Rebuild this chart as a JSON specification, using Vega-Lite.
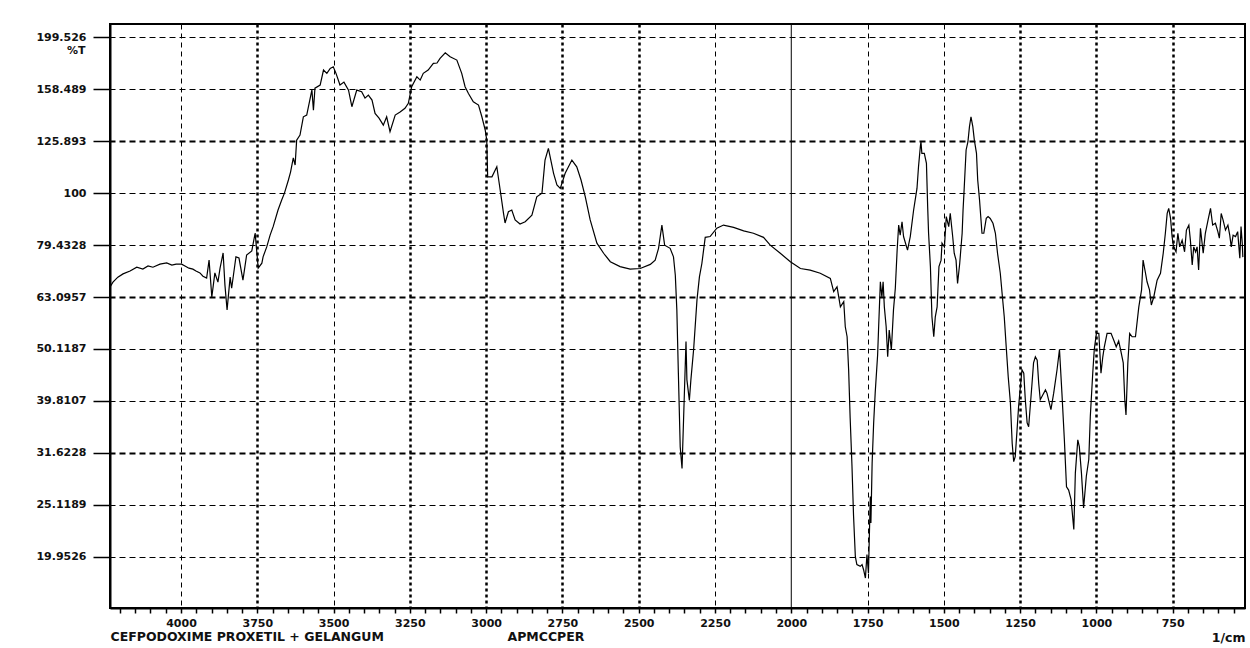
{
  "$schema": "https://vega.github.io/schema/vega-lite/v6.json",
  "width": 1135,
  "height": 584,
  "autosize": {"type": "none"},
  "padding": {"left": 110, "top": 24, "right": 5, "bottom": 40},
  "background": "white",
  "config": {
    "view": {"stroke": "black", "strokeWidth": 2},
    "axis": {"labelFont": "DejaVu Sans", "labelFontSize": 11, "labelFontWeight": "bold", "labelColor": "#111111", "titleFont": "DejaVu Sans", "titleFontSize": 12.5, "titleFontWeight": "bold", "titleColor": "#111111", "labelOverlap": false, "labelFlush": false}
  },
  "data": {"values": [
    {"wn":4231,"T":66.2},{"wn":4223,"T":67.4},{"wn":4207,"T":68.9},{"wn":4190,"T":69.9},{"wn":4167,"T":70.8},{"wn":4145,"T":72.0},{"wn":4125,"T":71.4},{"wn":4108,"T":72.4},{"wn":4092,"T":72.0},{"wn":4069,"T":73.0},
    {"wn":4047,"T":73.4},{"wn":4030,"T":72.7},{"wn":4016,"T":73.0},{"wn":3998,"T":73.0},{"wn":3987,"T":72.4},{"wn":3974,"T":71.7},{"wn":3961,"T":71.4},{"wn":3951,"T":70.8},{"wn":3938,"T":70.2},{"wn":3928,"T":69.2},
    {"wn":3916,"T":68.6},{"wn":3908,"T":74.3},{"wn":3899,"T":63.1},{"wn":3889,"T":70.2},{"wn":3879,"T":67.4},{"wn":3872,"T":71.7},{"wn":3862,"T":76.7},{"wn":3856,"T":66.5},{"wn":3849,"T":59.6},{"wn":3839,"T":68.9},
    {"wn":3834,"T":65.6},{"wn":3820,"T":75.4},{"wn":3810,"T":75.0},{"wn":3797,"T":68.0},{"wn":3785,"T":76.0},{"wn":3768,"T":77.4},{"wn":3757,"T":83.8},{"wn":3747,"T":71.7},{"wn":3735,"T":73.3},{"wn":3731,"T":75.4},
    {"wn":3719,"T":78.8},{"wn":3708,"T":83.0},{"wn":3698,"T":86.2},{"wn":3682,"T":92.8},{"wn":3670,"T":97.0},{"wn":3661,"T":100.0},{"wn":3648,"T":106.0},{"wn":3641,"T":109.8},{"wn":3632,"T":116.9},{"wn":3626,"T":113.3},
    {"wn":3621,"T":126.5},{"wn":3610,"T":129.4},{"wn":3599,"T":140.3},{"wn":3588,"T":141.4},{"wn":3571,"T":158.0},{"wn":3566,"T":144.5},{"wn":3561,"T":159.3},{"wn":3544,"T":161.5},{"wn":3533,"T":172.6},{"wn":3522,"T":170.1},
    {"wn":3511,"T":173.9},{"wn":3501,"T":175.1},{"wn":3492,"T":170.1},{"wn":3479,"T":161.5},{"wn":3466,"T":163.6},{"wn":3451,"T":157.9},{"wn":3440,"T":146.7},{"wn":3424,"T":157.9},{"wn":3408,"T":156.8},{"wn":3397,"T":152.4},
    {"wn":3386,"T":154.5},{"wn":3374,"T":151.1},{"wn":3364,"T":142.4},{"wn":3351,"T":139.5},{"wn":3337,"T":135.2},{"wn":3326,"T":140.3},{"wn":3315,"T":131.3},{"wn":3298,"T":141.4},{"wn":3282,"T":143.3},{"wn":3266,"T":145.7},
    {"wn":3255,"T":148.9},{"wn":3244,"T":160.3},{"wn":3227,"T":167.5},{"wn":3216,"T":165.1},{"wn":3206,"T":170.1},{"wn":3190,"T":172.6},{"wn":3173,"T":177.8},{"wn":3161,"T":178.1},{"wn":3151,"T":181.8},{"wn":3134,"T":186.3},
    {"wn":3118,"T":183.1},{"wn":3096,"T":180.4},{"wn":3080,"T":170.1},{"wn":3069,"T":160.3},{"wn":3058,"T":155.6},{"wn":3042,"T":150.0},{"wn":3025,"T":147.8},{"wn":3014,"T":140.3},{"wn":3003,"T":132.3},{"wn":2998,"T":126.5},
    {"wn":2995,"T":107.5},{"wn":2981,"T":107.5},{"wn":2965,"T":112.4},{"wn":2954,"T":101.4},{"wn":2943,"T":91.4},{"wn":2938,"T":87.6},{"wn":2927,"T":92.1},{"wn":2916,"T":92.8},{"wn":2905,"T":88.8},{"wn":2889,"T":87.2},
    {"wn":2872,"T":88.1},{"wn":2850,"T":90.7},{"wn":2834,"T":98.4},{"wn":2817,"T":100.0},{"wn":2807,"T":115.8},{"wn":2796,"T":122.0},{"wn":2779,"T":109.2},{"wn":2768,"T":103.7},{"wn":2757,"T":102.1},{"wn":2741,"T":109.2},
    {"wn":2719,"T":115.8},{"wn":2703,"T":112.4},{"wn":2689,"T":106.0},{"wn":2675,"T":98.4},{"wn":2659,"T":88.8},{"wn":2637,"T":80.1},{"wn":2615,"T":76.6},{"wn":2593,"T":73.8},{"wn":2561,"T":72.2},{"wn":2528,"T":71.4},
    {"wn":2495,"T":71.6},{"wn":2462,"T":72.9},{"wn":2446,"T":74.3},{"wn":2435,"T":78.3},{"wn":2424,"T":86.8},{"wn":2415,"T":79.4},{"wn":2397,"T":78.3},{"wn":2386,"T":75.4},{"wn":2380,"T":69.5},{"wn":2375,"T":59.6},
    {"wn":2370,"T":45.0},{"wn":2364,"T":32.5},{"wn":2358,"T":29.5},{"wn":2353,"T":36.6},{"wn":2345,"T":51.8},{"wn":2342,"T":43.7},{"wn":2334,"T":39.9},{"wn":2329,"T":43.7},{"wn":2320,"T":50.0},{"wn":2309,"T":62.3},
    {"wn":2301,"T":69.0},{"wn":2293,"T":73.2},{"wn":2282,"T":82.2},{"wn":2266,"T":82.5},{"wn":2244,"T":85.6},{"wn":2222,"T":86.8},{"wn":2189,"T":85.9},{"wn":2156,"T":84.6},{"wn":2124,"T":83.7},{"wn":2091,"T":82.2},
    {"wn":2069,"T":79.4},{"wn":2036,"T":76.6},{"wn":2003,"T":73.8},{"wn":1970,"T":71.6},{"wn":1938,"T":71.1},{"wn":1905,"T":70.1},{"wn":1872,"T":68.5},{"wn":1861,"T":64.6},{"wn":1850,"T":66.0},{"wn":1839,"T":60.4},
    {"wn":1828,"T":61.8},{"wn":1823,"T":55.3},{"wn":1817,"T":52.9},{"wn":1812,"T":45.7},{"wn":1807,"T":36.9},{"wn":1801,"T":29.8},{"wn":1796,"T":24.0},{"wn":1790,"T":19.95},{"wn":1785,"T":19.26},{"wn":1774,"T":19.11},
    {"wn":1768,"T":19.26},{"wn":1763,"T":18.83},{"wn":1757,"T":18.15},{"wn":1752,"T":20.13},{"wn":1747,"T":18.56},{"wn":1741,"T":26.06},{"wn":1739,"T":23.16},{"wn":1735,"T":30.2},{"wn":1730,"T":36.1},{"wn":1725,"T":41.2},
    {"wn":1717,"T":48.8},{"wn":1714,"T":54.5},{"wn":1708,"T":67.5},{"wn":1703,"T":63.1},{"wn":1699,"T":67.5},{"wn":1695,"T":60.4},{"wn":1689,"T":55.3},{"wn":1684,"T":48.4},{"wn":1679,"T":54.5},{"wn":1672,"T":49.9},
    {"wn":1665,"T":59.6},{"wn":1659,"T":65.6},{"wn":1653,"T":77.7},{"wn":1648,"T":86.8},{"wn":1643,"T":83.0},{"wn":1637,"T":88.1},{"wn":1632,"T":82.5},{"wn":1619,"T":77.7},{"wn":1610,"T":82.5},{"wn":1599,"T":92.8},
    {"wn":1588,"T":102.1},{"wn":1583,"T":112.4},{"wn":1577,"T":122.9},{"wn":1575,"T":125.6},{"wn":1572,"T":119.3},{"wn":1564,"T":119.3},{"wn":1557,"T":114.1},{"wn":1553,"T":94.2},{"wn":1550,"T":83.7},{"wn":1544,"T":72.2},
    {"wn":1539,"T":57.8},{"wn":1533,"T":52.9},{"wn":1528,"T":57.8},{"wn":1522,"T":60.4},{"wn":1516,"T":72.2},{"wn":1509,"T":74.3},{"wn":1506,"T":80.1},{"wn":1498,"T":78.8},{"wn":1492,"T":90.1},{"wn":1484,"T":86.2},
    {"wn":1479,"T":91.4},{"wn":1471,"T":82.5},{"wn":1466,"T":76.6},{"wn":1460,"T":74.3},{"wn":1455,"T":67.0},{"wn":1448,"T":73.2},{"wn":1440,"T":83.7},{"wn":1437,"T":92.8},{"wn":1433,"T":102.9},{"wn":1427,"T":121.1},
    {"wn":1421,"T":125.6},{"wn":1416,"T":134.3},{"wn":1411,"T":140.3},{"wn":1405,"T":134.3},{"wn":1400,"T":126.5},{"wn":1393,"T":119.3},{"wn":1389,"T":106.0},{"wn":1383,"T":97.0},{"wn":1375,"T":83.7},{"wn":1369,"T":83.7},
    {"wn":1361,"T":89.4},{"wn":1355,"T":90.1},{"wn":1348,"T":89.4},{"wn":1339,"T":87.5},{"wn":1331,"T":83.7},{"wn":1324,"T":76.6},{"wn":1315,"T":70.1},{"wn":1309,"T":64.1},{"wn":1302,"T":57.8},{"wn":1295,"T":50.0},
    {"wn":1289,"T":44.3},{"wn":1282,"T":39.6},{"wn":1276,"T":33.0},{"wn":1271,"T":30.4},{"wn":1266,"T":31.1},{"wn":1260,"T":35.0},{"wn":1255,"T":38.8},{"wn":1249,"T":42.4},{"wn":1244,"T":45.7},{"wn":1238,"T":45.0},
    {"wn":1233,"T":40.0},{"wn":1227,"T":36.1},{"wn":1222,"T":35.5},{"wn":1216,"T":39.4},{"wn":1211,"T":43.0},{"wn":1206,"T":47.1},{"wn":1200,"T":48.4},{"wn":1194,"T":47.7},{"wn":1189,"T":43.0},{"wn":1184,"T":40.0},
    {"wn":1167,"T":41.8},{"wn":1162,"T":41.2},{"wn":1149,"T":38.3},{"wn":1140,"T":41.2},{"wn":1129,"T":45.7},{"wn":1121,"T":50.0},{"wn":1113,"T":41.2},{"wn":1105,"T":33.5},{"wn":1098,"T":27.2},{"wn":1091,"T":26.8},
    {"wn":1083,"T":25.7},{"wn":1074,"T":22.5},{"wn":1069,"T":28.9},{"wn":1061,"T":33.5},{"wn":1056,"T":32.5},{"wn":1049,"T":28.9},{"wn":1042,"T":24.75},{"wn":1033,"T":28.5},{"wn":1025,"T":30.7},{"wn":1020,"T":37.1},
    {"wn":1012,"T":45.0},{"wn":1007,"T":50.0},{"wn":1000,"T":53.7},{"wn":992,"T":53.7},{"wn":985,"T":45.0},{"wn":979,"T":48.4},{"wn":974,"T":50.6},{"wn":965,"T":53.7},{"wn":952,"T":53.7},{"wn":943,"T":52.1},
    {"wn":935,"T":50.6},{"wn":927,"T":51.9},{"wn":921,"T":50.0},{"wn":912,"T":47.1},{"wn":907,"T":40.0},{"wn":903,"T":37.4},{"wn":897,"T":47.1},{"wn":891,"T":53.7},{"wn":883,"T":52.9},{"wn":872,"T":52.9},
    {"wn":861,"T":60.4},{"wn":852,"T":65.1},{"wn":847,"T":74.3},{"wn":839,"T":70.1},{"wn":834,"T":67.5},{"wn":826,"T":65.1},{"wn":820,"T":60.9},{"wn":812,"T":63.1},{"wn":801,"T":68.0},{"wn":790,"T":70.1},
    {"wn":781,"T":76.6},{"wn":774,"T":83.7},{"wn":768,"T":91.4},{"wn":763,"T":93.5},{"wn":757,"T":89.4},{"wn":752,"T":82.5},{"wn":747,"T":78.8},{"wn":739,"T":77.1},{"wn":733,"T":83.7},{"wn":727,"T":78.8},
    {"wn":719,"T":81.2},{"wn":711,"T":77.1},{"wn":705,"T":84.9},{"wn":697,"T":86.8},{"wn":692,"T":81.2},{"wn":686,"T":72.7},{"wn":681,"T":78.8},{"wn":675,"T":77.1},{"wn":670,"T":78.8},{"wn":665,"T":71.1},
    {"wn":659,"T":85.6},{"wn":650,"T":76.6},{"wn":643,"T":83.7},{"wn":634,"T":88.8},{"wn":626,"T":93.5},{"wn":619,"T":86.8},{"wn":610,"T":87.5},{"wn":602,"T":84.3},{"wn":597,"T":81.9},{"wn":591,"T":91.4},
    {"wn":585,"T":88.8},{"wn":577,"T":84.9},{"wn":569,"T":86.8},{"wn":563,"T":83.0},{"wn":558,"T":78.8},{"wn":552,"T":83.0},{"wn":544,"T":82.5},{"wn":537,"T":84.3},{"wn":530,"T":74.9},{"wn":526,"T":86.2},
    {"wn":522,"T":80.1},{"wn":520,"T":75.3}
  ]},
  "resolve": {"axis": {"x": "independent", "y": "independent"}},
  "layer": [
    {
      "mark": {"type": "line", "color": "black", "strokeWidth": 1.2, "interpolate": "linear"},
      "encoding": {
        "x": {
          "field": "wn", "type": "quantitative",
          "scale": {"domain": [513, 4232.7], "reverse": true, "nice": false, "zero": false},
          "axis": {
            "orient": "bottom",
            "values": [550,600,650,700,750,800,850,900,950,1000,1050,1100,1150,1200,1250,1300,1350,1400,1450,1500,1550,1600,1650,1700,1750,1800,1850,1900,1950,2000,2050,2100,2150,2200,2250,2300,2350,2400,2450,2500,2550,2600,2650,2700,2750,2800,2850,2900,2950,3000,3050,3100,3150,3200,3250,3300,3350,3400,3450,3500,3550,3600,3650,3700,3750,3800,3850,3900,3950,4000,4050,4100,4150,4200],
            "format": "d",
            "labelExpr": "datum.value % 250 === 0 ? datum.label : ''",
            "tickSize": 5, "tickColor": "black", "tickWidth": 1.5,
            "labelPadding": 4,
            "domain": true, "domainColor": "black", "domainWidth": 2,
            "grid": true, "gridColor": "black",
            "gridOpacity": {"condition": {"test": "datum.value % 250 !== 0 || datum.value === 2000", "value": 0}, "value": 1},
            "gridWidth": {"condition": {"test": "indexof([3750,3250,3000,2750,2500,1250,1000,750], datum.value) >= 0", "value": 2.5}, "value": 1},
            "gridDash": {"condition": {"test": "indexof([3750,3250,3000,2750,2500,1250,1000,750], datum.value) >= 0", "value": [3, 3]}, "value": [5, 4]},
            "title": "CEFPODOXIME PROXETIL + GELANGUM",
            "titleX": 0, "titleY": 28, "titleAlign": "left", "titleBaseline": "middle"
          }
        },
        "y": {
          "field": "T", "type": "quantitative",
          "scale": {"type": "log", "domain": [15.89, 211.7], "nice": false, "zero": false},
          "axis": {
            "orient": "left",
            "values": [199.52623149688796, 158.48931924611134, 125.89254117941675, 100, 79.43282347242814, 63.09573444801933, 50.11872336272722, 39.810717055349734, 31.622776601683793, 25.118864315095795, 19.952623149688797],
            "format": ".6~r",
            "tickSize": 17, "tickColor": "black", "tickWidth": 1.5,
            "labelPadding": 7,
            "domain": true, "domainColor": "black", "domainWidth": 2,
            "grid": true, "gridColor": "black",
            "gridWidth": {"condition": {"test": "(datum.value > 125 && datum.value < 127) || (datum.value > 63 && datum.value < 64) || (datum.value > 31 && datum.value < 32)", "value": 2}, "value": 1},
            "gridDash": [6, 4],
            "title": "%T",
            "titleFontSize": 11,
            "titleAngle": 0, "titleX": -25, "titleY": 26, "titleAlign": "right", "titleBaseline": "middle"
          }
        }
      }
    },
    {
      "data": {"values": [{}]},
      "mark": {"type": "rule", "color": "black", "strokeWidth": 1},
      "encoding": {
        "x": {"datum": 2000, "type": "quantitative", "axis": null}
      }
    },
    {
      "mark": {"type": "line", "opacity": 0},
      "encoding": {
        "x": {
          "field": "wn", "type": "quantitative",
          "axis": {"orient": "bottom", "ticks": false, "labels": false, "domain": false, "grid": false,
            "title": "APMCCPER", "titleX": 397, "titleY": 28, "titleAlign": "left", "titleBaseline": "middle"}
        },
        "y": {
          "field": "T", "type": "quantitative",
          "axis": {"orient": "right", "ticks": false, "labels": false, "domain": false, "grid": false,
            "title": "1/cm", "titleAngle": 0, "titleX": 0, "titleY": 613, "titleAlign": "right", "titleBaseline": "middle"}
        }
      }
    }
  ]
}
